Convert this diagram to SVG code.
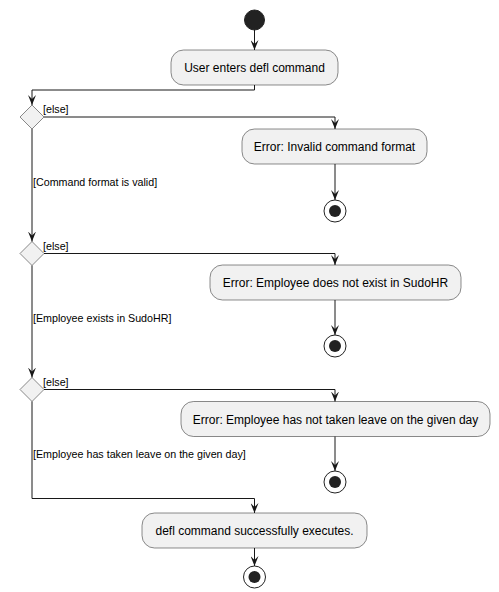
<svg xmlns="http://www.w3.org/2000/svg" width="499" height="592" viewBox="0 0 499 592">
<defs>
<style>
.bg{fill:#FFFFFF}
.act rect{fill:#F1F1F1;stroke:#181818;stroke-width:0.5}
.act text{font-family:"Liberation Sans",Arial,sans-serif;font-size:12px;fill:#000000;text-anchor:middle}
.dec polygon{fill:#F1F1F1;stroke:#181818;stroke-width:0.5}
.conn path{fill:none;stroke:#181818;stroke-width:1;marker-end:url(#arr)}
.guard{font-family:"Liberation Sans",Arial,sans-serif;font-size:10.7px;fill:#000000}
.start{fill:#222222;stroke:#222222;stroke-width:1}
.endo{fill:none;stroke:#222222;stroke-width:1}
.endi{fill:#222222;stroke:none}
</style>
<marker id="arr" viewBox="0 0 10 8" refX="10" refY="4" markerWidth="10" markerHeight="8" markerUnits="userSpaceOnUse" orient="auto">
<path d="M0,0 L10,4 L0,8 L4,4 Z" fill="#181818"/>
</marker>
</defs>
<rect class="bg" x="0" y="0" width="499" height="592"/>

<g id="start"><circle class="start" cx="254.5" cy="20" r="10"/></g>

<g id="userEnters" class="act">
<rect x="171" y="50" width="167" height="35" rx="12.5" ry="12.5"/>
<text x="254.5" y="72">User enters defl command</text>
</g>

<g id="decision1" class="dec"><polygon points="32,105 44,117 32,129 20,117"/></g>

<g id="errInvalid" class="act">
<rect x="242" y="129" width="185" height="35" rx="12.5" ry="12.5"/>
<text x="334.5" y="151">Error: Invalid command format</text>
</g>

<g id="end1"><circle class="endo" cx="335" cy="211" r="11"/><circle class="endi" cx="335" cy="211" r="6"/></g>

<g id="decision2" class="dec"><polygon points="32,241.5 44,253.5 32,265.5 20,253.5"/></g>

<g id="errNotExist" class="act">
<rect x="210" y="265" width="251" height="35" rx="12.5" ry="12.5"/>
<text x="335.5" y="287">Error: Employee does not exist in SudoHR</text>
</g>

<g id="end2"><circle class="endo" cx="335" cy="346" r="11"/><circle class="endi" cx="335" cy="346" r="6"/></g>

<g id="decision3" class="dec"><polygon points="32,377.5 44,389.5 32,401.5 20,389.5"/></g>

<g id="errNoLeave" class="act">
<rect x="181" y="401.5" width="309" height="35" rx="12.5" ry="12.5"/>
<text x="335.5" y="423.5">Error: Employee has not taken leave on the given day</text>
</g>

<g id="end3"><circle class="endo" cx="335" cy="482" r="11"/><circle class="endi" cx="335" cy="482" r="6"/></g>

<g id="success" class="act">
<rect x="142" y="513" width="225" height="35" rx="12.5" ry="12.5"/>
<text x="254.5" y="535">defl command successfully executes.</text>
</g>

<g id="end4"><circle class="endo" cx="254.5" cy="577" r="11"/><circle class="endi" cx="254.5" cy="577" r="6"/></g>

<g id="connectors" class="conn">
<path d="M254.5,30 V50"/>
<path d="M254.5,85 V90 H32 V105"/>
<path d="M44,117 H335 V129"/>
<path d="M335,164 V200"/>
<path d="M32,129 V241.5"/>
<path d="M44,253.5 H335 V265"/>
<path d="M335,300 V335"/>
<path d="M32,265.5 V377.5"/>
<path d="M44,389.5 H335 V401.5"/>
<path d="M335,436.5 V471"/>
<path d="M32,401.5 V498.5 H254.5 V513"/>
<path d="M254.5,548 V566"/>
</g>

<g id="labels">
<text class="guard" x="43" y="113">[else]</text>
<text class="guard" x="33" y="186">[Command format is valid]</text>
<text class="guard" x="43" y="249.5">[else]</text>
<text class="guard" x="33" y="322">[Employee exists in SudoHR]</text>
<text class="guard" x="43" y="385.5">[else]</text>
<text class="guard" x="33" y="458">[Employee has taken leave on the given day]</text>
</g>
</svg>
